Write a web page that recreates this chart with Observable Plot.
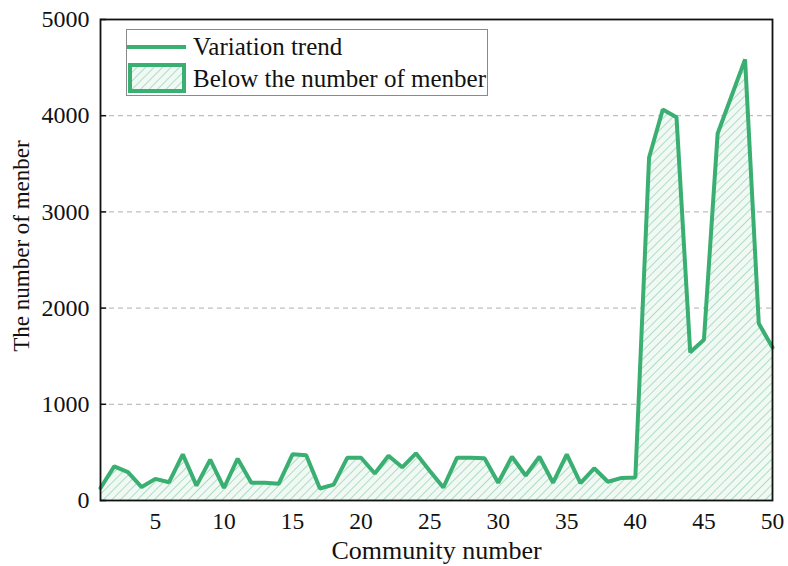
<!DOCTYPE html>
<html>
<head>
<meta charset="utf-8">
<script src="https://cdn.jsdelivr.net/npm/d3@7"></script>
<script src="https://cdn.jsdelivr.net/npm/@observablehq/plot@0.6"></script>
<style>
  html, body { margin: 0; padding: 0; background: #fff; }
  #wrap { position: relative; width: 788px; height: 566px; font-family: "Liberation Serif", "Times New Roman", serif; }
  #legend { position: absolute; left: 0; top: 0; }
  #legend text { font-family: "Liberation Serif", "Times New Roman", serif; font-size: 25px; fill: #111; }
</style>
</head>
<body>
<div id="wrap"></div>
<script>
const communities = d3.range(1, 51);
const members = [
  130, 355, 295, 140, 225, 190, 480, 155, 425, 130,
  435, 185, 185, 175, 480, 470, 125, 165, 445, 445,
  280, 465, 345, 490, 310, 135, 445, 445, 440, 185,
  455, 260, 455, 185, 480, 180, 335, 195, 235, 240,
  3565, 4065, 3985, 1540, 1670, 3815, 4200, 4585, 1840, 1590
];
const xTicks = [5, 10, 15, 20, 25, 30, 35, 40, 45, 50];
const yTicks = [0, 1000, 2000, 3000, 4000, 5000];
const gridValues = [1000, 2000, 3000, 4000];
const seriesNames = ["Variation trend", "Below the number of menber"];
const green = "#3aaf72";

const data = communities.map((c, i) => ({community: c, members: members[i]}));

const chart = Plot.plot({
  width: 788,
  height: 566,
  marginLeft: 100,
  marginRight: 16,
  marginTop: 19,
  marginBottom: 66,
  style: {fontFamily: "Liberation Serif, Times New Roman, serif", color: "#111", background: "#fff"},
  x: {domain: [1, 50], ticks: xTicks, tickFormat: d => String(d), tickSize: 0, tickPadding: 12, label: "Community number", labelAnchor: "center", labelOffset: 58},
  y: {domain: [0, 5000], ticks: yTicks, tickFormat: d => String(d), tickSize: 0, tickPadding: 11, label: "The number of menber", labelAnchor: "center", labelOffset: 88},
  marks: [
    Plot.ruleY(gridValues, {stroke: "#b0b0b0", strokeDasharray: "5,4", strokeWidth: 1}),
    Plot.areaY(data, {x: "community", y: "members", fill: "url(#hatch)"}),
    Plot.lineY(data, {x: "community", y: "members", stroke: green, strokeWidth: 4, strokeLinejoin: "miter"}),
    Plot.ruleY(yTicks, {x1: 1, x2: 1.45, stroke: "#111", strokeWidth: 1.5}),
    Plot.frame({stroke: "#111", strokeWidth: 1.8})
  ]
});

const ns = "http://www.w3.org/2000/svg";
const defs = document.createElementNS(ns, "defs");
defs.innerHTML = `
  <pattern id="hatch" patternUnits="userSpaceOnUse" width="6" height="6" patternTransform="rotate(45)">
    <rect width="6" height="6" fill="#f1f9f4"></rect>
    <line x1="0" y1="0" x2="0" y2="6" stroke="#5fb98a" stroke-width="0.9"></line>
  </pattern>`;
chart.insertBefore(defs, chart.firstChild);

const serif = '"Liberation Serif", "Times New Roman", serif';
function styleGroup(label, size) {
  const g = chart.querySelector(`g[aria-label="${label}"]`);
  if (!g) return g;
  g.setAttribute("font-family", serif);
  g.setAttribute("font-size", size);
  g.style.fontFamily = serif;
  g.style.fontSize = size + "px";
  g.querySelectorAll("text").forEach(t => {
    t.style.fontFamily = serif;
    t.style.fontSize = size + "px";
    t.setAttribute("fill", "#111");
    if (/[→↑]/.test(t.textContent)) t.textContent = t.textContent.replace(/[→↑]/g, "").trim();
  });
  return g;
}
styleGroup("x-axis tick label", 23.5);
styleGroup("y-axis tick label", 24);
styleGroup("x-axis label", 26);
const yLabel = styleGroup("y-axis label", 23);
if (yLabel) {
  const prev = yLabel.getAttribute("transform") || "";
  yLabel.setAttribute("transform", (prev + " translate(0,-14)").trim());
}

const wrap = document.getElementById("wrap");
wrap.appendChild(chart);

// legend overlay
const legend = document.createElementNS(ns, "svg");
legend.setAttribute("id", "legend");
legend.setAttribute("width", 788);
legend.setAttribute("height", 120);
legend.innerHTML = `
  <rect x="126.5" y="29.5" width="361" height="66" fill="#fff" stroke="#8a8a8a" stroke-width="1"></rect>
  <line x1="127" y1="47" x2="186" y2="47" stroke="${green}" stroke-width="4"></line>
  <text x="193" y="55">${seriesNames[0]}</text>
  <rect x="130" y="65" width="54" height="26" fill="url(#hatch)" stroke="${green}" stroke-width="4"></rect>
  <text x="193" y="87">${seriesNames[1]}</text>`;
wrap.appendChild(legend);
</script>
</body>
</html>
